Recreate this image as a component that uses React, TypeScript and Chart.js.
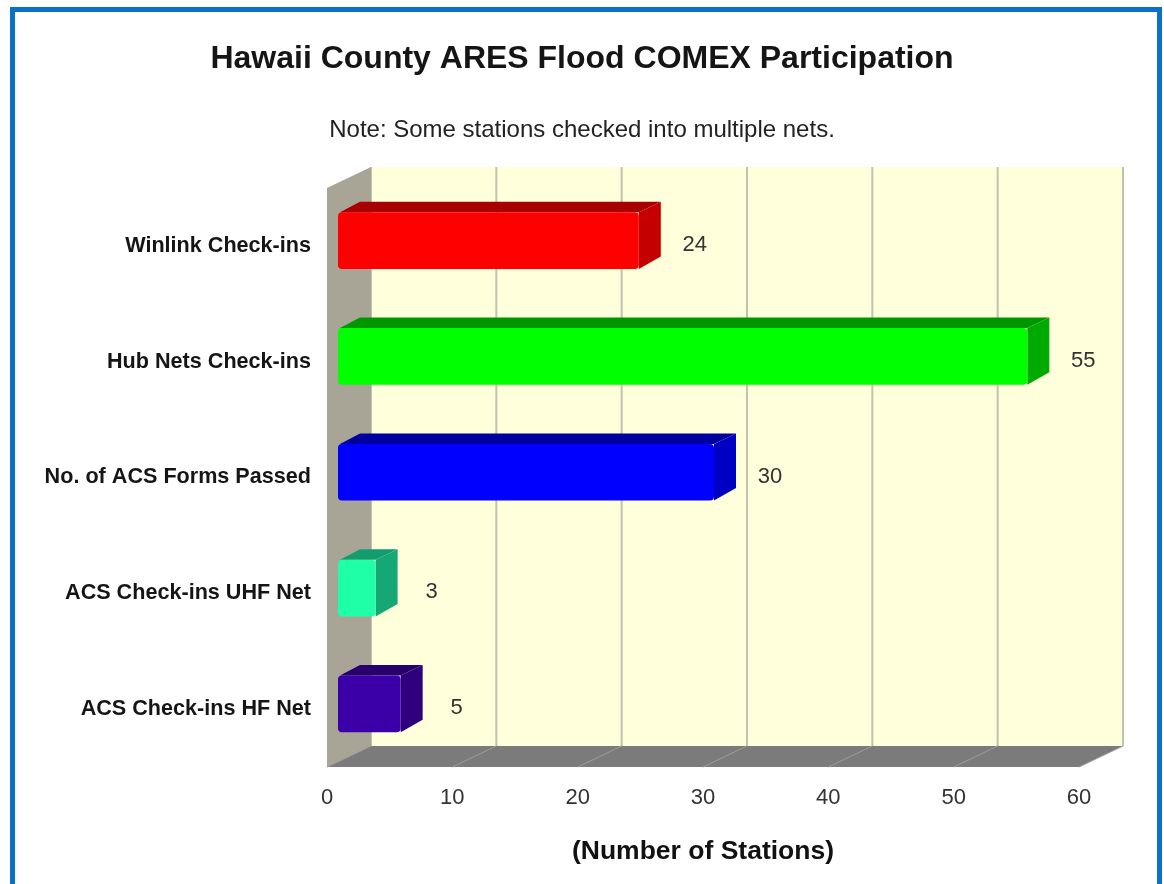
import React, { useEffect, useRef } from "react";
import { Chart, registerables } from "chart.js";

Chart.register(...registerables);

// ---- data ----
const chartTitle = "Hawaii County ARES Flood COMEX Participation";
const chartSubtitle = "Note: Some stations checked into multiple nets.";
const axisTitle = "(Number of Stations)";
const categories = [
  "Winlink Check-ins",
  "Hub Nets Check-ins",
  "No. of ACS Forms Passed",
  "ACS Check-ins UHF Net",
  "ACS Check-ins HF Net",
];
const stationCounts = [24, 55, 30, 3, 5];
const xMin = 0;
const xMax = 60;
const xStep = 10;

// ---- styles ----
const frontColors = ["#ff0000", "#00ff00", "#0000ff", "#1effa8", "#3c00a8"];
const topColors = ["#a80000", "#009600", "#0000a0", "#139c6e", "#27006e"];
const sideColors = ["#c40000", "#00aa00", "#0000c4", "#16a874", "#2e007e"];

const SANS = '"Liberation Sans", Arial, sans-serif';

const DX = 44;
const DY = -21;
const Z0 = 0.25;
const Z1 = 0.75;

const depthPlugin = {
  id: "depth3d",
  beforeDraw(chart: any) {
    const ctx = chart.ctx;
    ctx.save();
    ctx.fillStyle = "#ffffff";
    ctx.fillRect(0, 0, chart.width, chart.height);
    ctx.strokeStyle = "#0b70c9";
    ctx.lineWidth = 5;
    ctx.strokeRect(12.5, 9.5, 1147, 1000);
    ctx.restore();
  },
  beforeDatasetsDraw(chart: any) {
    const ctx = chart.ctx;
    const a = chart.chartArea;
    const xs = chart.scales.x;
    const w = a.right - a.left;
    const h = a.bottom - a.top;
    ctx.save();
    // back wall
    ctx.fillStyle = "#ffffdc";
    ctx.fillRect(a.left + DX, a.top + DY, w, h);
    // grid lines on back wall
    ctx.strokeStyle = "#c2c2b0";
    ctx.lineWidth = 2;
    xs.ticks.forEach((t: any) => {
      const px = xs.getPixelForValue(t.value) + DX;
      ctx.beginPath();
      ctx.moveTo(px, a.top + DY);
      ctx.lineTo(px, a.bottom + DY);
      ctx.stroke();
    });
    // left wall
    ctx.fillStyle = "#a8a496";
    ctx.beginPath();
    ctx.moveTo(a.left, a.top);
    ctx.lineTo(a.left + DX, a.top + DY);
    ctx.lineTo(a.left + DX, a.bottom + DY);
    ctx.lineTo(a.left, a.bottom);
    ctx.closePath();
    ctx.fill();
    // floor
    ctx.fillStyle = "#7b7b7b";
    ctx.beginPath();
    ctx.moveTo(a.left, a.bottom);
    ctx.lineTo(a.left + DX, a.bottom + DY);
    ctx.lineTo(a.right + DX, a.bottom + DY);
    ctx.lineTo(a.right, a.bottom);
    ctx.closePath();
    ctx.fill();
    // floor lines
    ctx.strokeStyle = "#9c9c9c";
    ctx.lineWidth = 1;
    xs.ticks.forEach((t: any) => {
      const px = xs.getPixelForValue(t.value);
      ctx.beginPath();
      ctx.moveTo(px, a.bottom);
      ctx.lineTo(px + DX, a.bottom + DY);
      ctx.stroke();
    });
    // bar top and side faces
    const meta = chart.getDatasetMeta(0);
    const fx = DX * Z0;
    const fy = DY * Z0;
    const bx = DX * (Z1 - Z0);
    const by = DY * (Z1 - Z0);
    meta.data.forEach((bar: any, i: number) => {
      const p = bar.getProps(["x", "y", "base", "height"], true);
      const x0 = p.base + fx;
      const x1 = p.x + fx;
      const yT = p.y - p.height / 2 + fy;
      const yB = p.y + p.height / 2 + fy;
      ctx.fillStyle = topColors[i];
      ctx.beginPath();
      ctx.moveTo(x0 + 2, yT);
      ctx.lineTo(x0 + bx, yT + by);
      ctx.lineTo(x1 + bx, yT + by);
      ctx.lineTo(x1, yT);
      ctx.closePath();
      ctx.fill();
      ctx.fillStyle = sideColors[i];
      ctx.beginPath();
      ctx.moveTo(x1, yT);
      ctx.lineTo(x1 + bx, yT + by);
      ctx.lineTo(x1 + bx, yB + by - 2);
      ctx.lineTo(x1, yB);
      ctx.closePath();
      ctx.fill();
    });
    ctx.restore();
    ctx.save();
    ctx.translate(fx, fy);
  },
  afterDatasetsDraw(chart: any) {
    const ctx = chart.ctx;
    ctx.restore();
    const meta = chart.getDatasetMeta(0);
    ctx.save();
    ctx.fillStyle = "#333333";
    ctx.font = `22px ${SANS}`;
    ctx.textAlign = "center";
    ctx.textBaseline = "middle";
    meta.data.forEach((bar: any, i: number) => {
      const p = bar.getProps(["x", "y"], true);
      ctx.fillText(String(stationCounts[i]), p.x + 67, p.y - 1);
    });
    ctx.restore();
  },
};

export default function App() {
  const ref = useRef<HTMLCanvasElement | null>(null);
  useEffect(() => {
    if (!ref.current) return;
    const chart = new Chart(ref.current, {
      type: "bar",
      data: {
        labels: categories,
        datasets: [
          {
            data: stationCounts,
            backgroundColor: frontColors,
            borderWidth: 0,
            borderRadius: 4,
            borderSkipped: false,
            barPercentage: 0.49,
            categoryPercentage: 1,
          },
        ],
      },
      options: {
        indexAxis: "y",
        animation: false,
        responsive: false,
        devicePixelRatio: 1,
        layout: { padding: { top: 32, left: 0, right: 0, bottom: 0 } },
        plugins: {
          legend: { display: false },
          tooltip: { enabled: false },
          title: {
            display: true,
            text: chartTitle,
            color: "#151515",
            font: { family: SANS, size: 32, weight: "bold" },
            padding: { top: 8, bottom: 28 },
          },
          subtitle: {
            display: true,
            text: chartSubtitle,
            color: "#222222",
            font: { family: SANS, size: 24 },
            padding: { top: 10, bottom: 42.8 },
          },
        },
        scales: {
          x: {
            type: "linear",
            min: xMin,
            max: xMax,
            ticks: {
              stepSize: xStep,
              color: "#333333",
              font: { family: SANS, size: 22 },
              padding: 18,
            },
            grid: { display: false, drawTicks: false, tickLength: 0 },
            border: { display: false },
            title: {
              display: true,
              text: axisTitle,
              color: "#111111",
              font: { family: SANS, size: 26.5, weight: "bold" },
              padding: { top: 0, bottom: 16 },
            },
            afterFit: (s: any) => {
              s.height = 117;
            },
          },
          y: {
            type: "category",
            ticks: {
              color: "#151515",
              font: { family: SANS, size: 21.6, weight: "bold" },
              padding: 16,
            },
            grid: { display: false, drawTicks: false, tickLength: 0 },
            border: { display: false },
            afterFit: (s: any) => {
              s.width = 327;
            },
          },
          yRight: {
            type: "category",
            position: "right",
            labels: categories,
            ticks: { display: false },
            grid: { display: false, drawTicks: false, tickLength: 0 },
            border: { display: false },
            afterFit: (s: any) => {
              s.width = 85;
            },
          },
        },
      },
      plugins: [depthPlugin],
    } as any);
    return () => chart.destroy();
  }, []);
  return (
    <div style={{ position: "fixed", left: 0, top: 0, width: 1164, height: 884 }}>
      <canvas ref={ref} width={1164} height={884} />
    </div>
  );
}
